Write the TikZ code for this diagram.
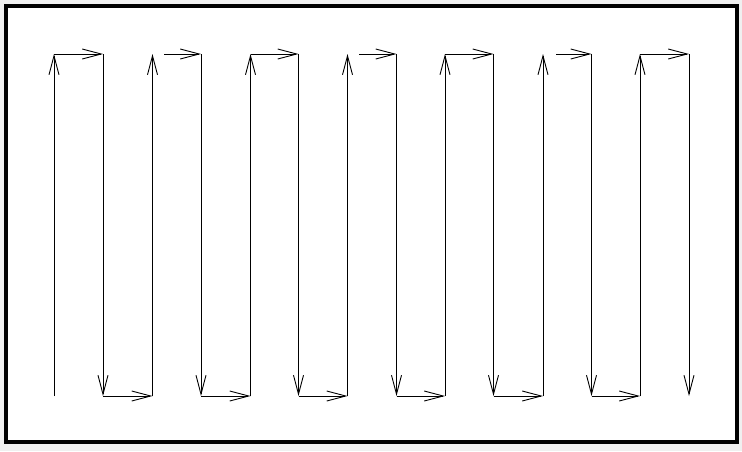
\documentclass[tikz,border=0pt]{standalone}
\usetikzlibrary{arrows.meta}
\begin{document}
\begin{tikzpicture}[x=1pt,y=-1pt,
  wire/.style={line width=0.9pt,black},
  arr/.style={wire,-{Straight Barb[length=19pt,width=10pt,line width=0.9pt]}},
  frame/.style={line width=4pt,black}]
\useasboundingbox (0,0) rectangle (742,451);
\fill[black!6] (0,0) rectangle (742,451);
\fill[white] (6,6) rectangle (737,442);
\draw[frame] (6,6) rectangle (737,442);
% columns
\foreach \i/\x in {1/54,2/103,3/152.5,4/201,5/250.5,6/298.5,7/347.5,8/396.5,9/445,10/493.5,11/543,12/591.5,13/640,14/689}{
  \coordinate (t\i) at (\x,54);
  \coordinate (b\i) at (\x,396);
}
% detached starts of some top arrows
\coordinate (s3) at (164,54);
\coordinate (s7) at (359,54);
\coordinate (s11) at (556,54);
% up arrows
\foreach \i in {1,3,5,7,9,11,13}{ \draw[arr] (b\i) -- (t\i); }
% down arrows
\foreach \i in {2,4,6,8,10,12,14}{ \draw[arr] (t\i) -- (b\i); }
% bottom arrows
\foreach \i/\j in {2/3,4/5,6/7,8/9,10/11,12/13}{ \draw[arr] (b\i) -- (b\j); }
% top arrows
\draw[arr] (t1) -- (t2);
\draw[arr] (s3) -- (t4);
\draw[arr] (t5) -- (t6);
\draw[arr] (s7) -- (t8);
\draw[arr] (t9) -- (t10);
\draw[arr] (s11) -- (t12);
\draw[arr] (t13) -- (t14);
\end{tikzpicture}
\end{document}
